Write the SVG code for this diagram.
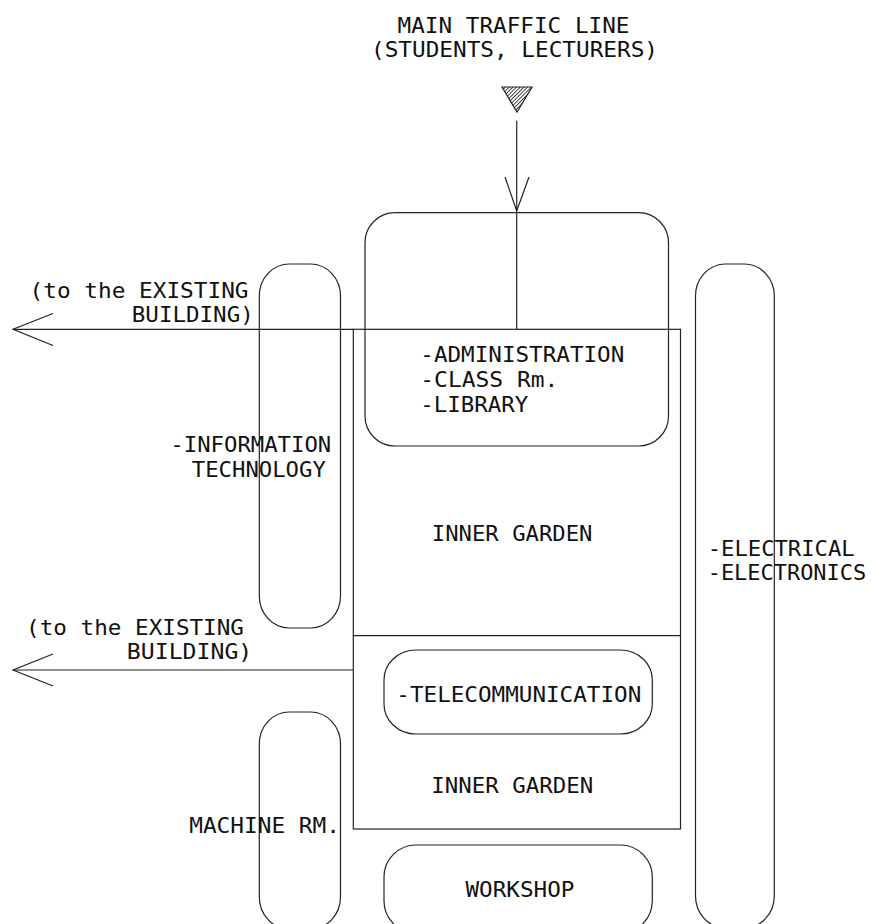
<svg xmlns="http://www.w3.org/2000/svg" width="873" height="924" viewBox="0 0 873 924">
<style>
.ln{fill:none;stroke:#222;stroke-width:1.2}
.t{font-family:"DejaVu Sans Mono","Liberation Mono",monospace;font-size:22px;fill:#111}
</style>
<defs>
<pattern id="hatch" patternUnits="userSpaceOnUse" width="2.6" height="2.6" patternTransform="rotate(45)">
<rect width="2.6" height="2.6" fill="#fff"/>
<line x1="0" y1="0" x2="0" y2="2.6" stroke="#222" stroke-width="1.6"/>
</pattern>
</defs>
<rect width="873" height="924" fill="#fff"/>

<g id="traffic-label">
<text class="t" x="397.5" y="32.7" textLength="232" lengthAdjust="spacingAndGlyphs">MAIN TRAFFIC LINE</text>
<text class="t" x="371" y="56.5" textLength="287" lengthAdjust="spacingAndGlyphs">(STUDENTS, LECTURERS)</text>
<polygon points="502,87 532,87 517,112" fill="url(#hatch)" stroke="#222" stroke-width="1.2"/>
</g>

<g id="connectors">
<line class="ln" x1="516.7" y1="120.7" x2="516.7" y2="329.3"/>
<polyline class="ln" points="505,177 516.7,211 529,177"/>
<line class="ln" x1="13" y1="329.3" x2="353.3" y2="329.3"/>
<polyline class="ln" points="53,313.5 13,329.3 53,345.5"/>
<line class="ln" x1="13" y1="670" x2="353.3" y2="670"/>
<polyline class="ln" points="53,654 13,670 53,686"/>
</g>

<g id="existing-1">
<text class="t" x="29.5" y="297.7" textLength="219" lengthAdjust="spacingAndGlyphs">(to the EXISTING</text>
<text class="t" x="131.8" y="321.7" textLength="122" lengthAdjust="spacingAndGlyphs">BUILDING)</text>
</g>
<g id="existing-2">
<text class="t" x="26" y="635" textLength="218" lengthAdjust="spacingAndGlyphs">(to the EXISTING</text>
<text class="t" x="126.8" y="659.3" textLength="125.5" lengthAdjust="spacingAndGlyphs">BUILDING)</text>
</g>

<g id="main-area">
<rect class="ln" x="353.3" y="329.3" width="327.2" height="499.7"/>
<line class="ln" x1="353.3" y1="635.7" x2="680.5" y2="635.7"/>
<text class="t" x="431.8" y="541" textLength="160.7" lengthAdjust="spacingAndGlyphs">INNER GARDEN</text>
<text class="t" x="431.2" y="792.7" textLength="162" lengthAdjust="spacingAndGlyphs">INNER GARDEN</text>
</g>

<g id="administration">
<rect class="ln" x="365" y="212.7" width="303.5" height="233.3" rx="30" ry="30"/>
<text class="t" x="420.3" y="361.7" textLength="204" lengthAdjust="spacingAndGlyphs">-ADMINISTRATION</text>
<text class="t" x="420.3" y="386.7" textLength="138" lengthAdjust="spacingAndGlyphs">-CLASS Rm.</text>
<text class="t" x="420.3" y="411.7" textLength="108" lengthAdjust="spacingAndGlyphs">-LIBRARY</text>
</g>

<g id="information-technology">
<rect class="ln" x="259.3" y="264" width="81.2" height="364" rx="30" ry="32"/>
<text class="t" x="170.3" y="451.7" textLength="161" lengthAdjust="spacingAndGlyphs">-INFORMATION</text>
<text class="t" x="191.8" y="476.7" textLength="134" lengthAdjust="spacingAndGlyphs">TECHNOLOGY</text>
</g>

<g id="electrical">
<rect class="ln" x="695.5" y="264" width="78.8" height="664" rx="30" ry="32"/>
<text class="t" x="707.7" y="556" textLength="147" lengthAdjust="spacingAndGlyphs">-ELECTRICAL</text>
<text class="t" x="707.7" y="579.5" textLength="158.5" lengthAdjust="spacingAndGlyphs">-ELECTRONICS</text>
</g>

<g id="telecommunication">
<rect class="ln" x="384" y="650" width="268.3" height="84" rx="32" ry="30"/>
<text class="t" x="396.3" y="702" textLength="245" lengthAdjust="spacingAndGlyphs">-TELECOMMUNICATION</text>
</g>

<g id="machine-room">
<rect class="ln" x="259.3" y="712" width="81.2" height="217" rx="30" ry="32"/>
<text class="t" x="189.2" y="833.3" textLength="150.8" lengthAdjust="spacingAndGlyphs">MACHINE RM.</text>
</g>

<g id="workshop">
<rect class="ln" x="384" y="845" width="268.3" height="88" rx="32" ry="32"/>
<text class="t" x="465.5" y="896.7" textLength="109" lengthAdjust="spacingAndGlyphs">WORKSHOP</text>
</g>
</svg>
